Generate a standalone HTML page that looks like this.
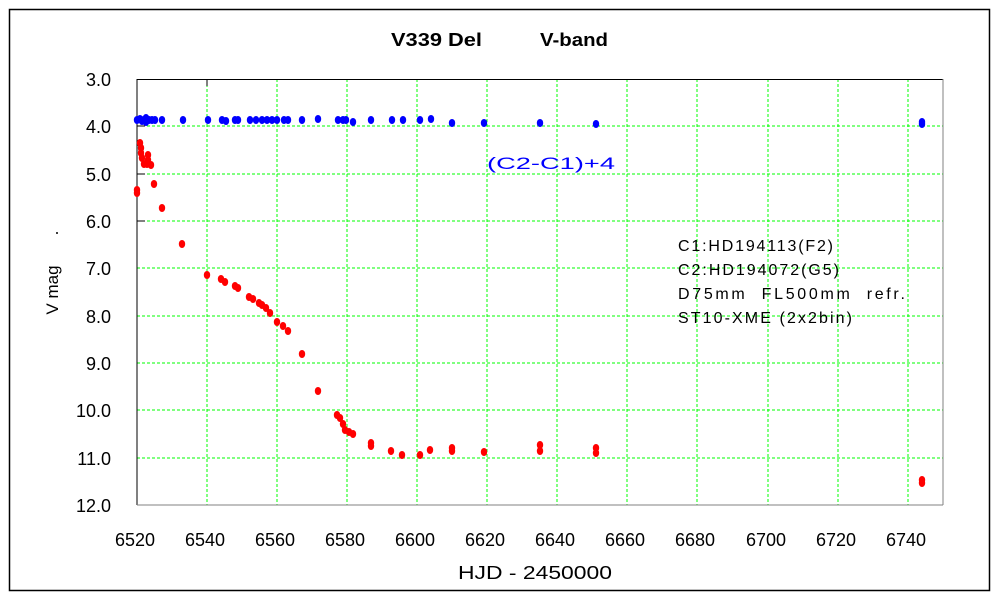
<!DOCTYPE html>
<html><head><style>body{margin:0;background:#fff}</style></head><body>
<svg width="1000" height="600" xmlns="http://www.w3.org/2000/svg" font-family="Liberation Sans, sans-serif">
<rect x="0" y="0" width="1000" height="600" fill="#fff"/>
<rect x="9.5" y="9.5" width="980" height="581" fill="none" stroke="#000" stroke-width="1.5"/>
<text x="391" y="46" font-size="18" font-weight="bold" textLength="91" lengthAdjust="spacingAndGlyphs">V339 Del</text>
<text x="540" y="46" font-size="18" font-weight="bold" textLength="68" lengthAdjust="spacingAndGlyphs">V-band</text>
<g stroke="#00ff00" stroke-dasharray="3,2" stroke-width="1">
<line x1="207" y1="79" x2="207" y2="505"/><line x1="277" y1="79" x2="277" y2="505"/><line x1="347" y1="79" x2="347" y2="505"/><line x1="417" y1="79" x2="417" y2="505"/><line x1="487" y1="79" x2="487" y2="505"/><line x1="557" y1="79" x2="557" y2="505"/><line x1="627" y1="79" x2="627" y2="505"/><line x1="697" y1="79" x2="697" y2="505"/><line x1="768" y1="79" x2="768" y2="505"/><line x1="838" y1="79" x2="838" y2="505"/><line x1="908" y1="79" x2="908" y2="505"/>
<line x1="137" y1="126" x2="943" y2="126"/><line x1="137" y1="174" x2="943" y2="174"/><line x1="137" y1="221" x2="943" y2="221"/><line x1="137" y1="268" x2="943" y2="268"/><line x1="137" y1="316" x2="943" y2="316"/><line x1="137" y1="363" x2="943" y2="363"/><line x1="137" y1="410" x2="943" y2="410"/><line x1="137" y1="458" x2="943" y2="458"/>
</g>
<g stroke="#000">
<line x1="137" y1="79" x2="137" y2="505"/><line x1="137" y1="79.5" x2="943" y2="79.5"/>
<line x1="207" y1="79" x2="207" y2="86"/>
<line x1="137" y1="126" x2="145" y2="126"/><line x1="137" y1="174" x2="145" y2="174"/><line x1="137" y1="221" x2="145" y2="221"/>
</g>
<g stroke="#808080"><line x1="943" y1="79" x2="943" y2="505"/><line x1="137" y1="505" x2="943" y2="505"/></g>
<g font-size="18" text-anchor="end">
<text x="111" y="86">3.0</text><text x="111" y="133">4.0</text><text x="111" y="181">5.0</text><text x="111" y="228">6.0</text><text x="111" y="275">7.0</text><text x="111" y="323">8.0</text><text x="111" y="370">9.0</text><text x="111" y="417">10.0</text><text x="111" y="465">11.0</text><text x="111" y="512">12.0</text>
</g>
<g font-size="18" text-anchor="middle">
<text x="135" y="546">6520</text><text x="205" y="546">6540</text><text x="275" y="546">6560</text><text x="345" y="546">6580</text><text x="415" y="546">6600</text><text x="485" y="546">6620</text><text x="555" y="546">6640</text><text x="625" y="546">6660</text><text x="695" y="546">6680</text><text x="766" y="546">6700</text><text x="836" y="546">6720</text><text x="906" y="546">6740</text>
</g>
<text x="458" y="579" font-size="18" textLength="154" lengthAdjust="spacingAndGlyphs">HJD - 2450000</text>
<text transform="translate(58,290) rotate(-90)" font-size="17" text-anchor="middle">V mag</text>
<circle cx="57" cy="233" r="1" fill="#000"/>
<text x="487" y="169" font-size="17" fill="#0000ff" textLength="128" lengthAdjust="spacingAndGlyphs">(C2-C1)+4</text>
<g font-size="16" lengthAdjust="spacingAndGlyphs"><text x="678" y="251" textLength="155">C1:HD194113(F2)</text><text x="678" y="275" textLength="161">C2:HD194072(G5)</text><text x="678" y="299" textLength="227" xml:space="preserve">D75mm  FL500mm  refr.</text><text x="678" y="323" textLength="174">ST10-XME (2x2bin)</text></g>
<g fill="#0000ff">
<ellipse cx="137" cy="120" rx="3.2" ry="4"/><ellipse cx="140" cy="119" rx="3.2" ry="4"/><ellipse cx="142" cy="121" rx="3.2" ry="4"/><ellipse cx="144" cy="120" rx="3.2" ry="4"/><ellipse cx="146" cy="118" rx="3.2" ry="4"/><ellipse cx="146" cy="122" rx="3.2" ry="4"/><ellipse cx="149" cy="120" rx="3.2" ry="4"/><ellipse cx="152" cy="120" rx="3.2" ry="4"/><ellipse cx="155" cy="120" rx="3.2" ry="4"/><ellipse cx="162" cy="120" rx="3.2" ry="4"/><ellipse cx="183" cy="120" rx="3.2" ry="4"/><ellipse cx="208" cy="120" rx="3.2" ry="4"/><ellipse cx="222" cy="120" rx="3.2" ry="4"/><ellipse cx="226" cy="121" rx="3.2" ry="4"/><ellipse cx="235" cy="120" rx="3.2" ry="4"/><ellipse cx="238" cy="120" rx="3.2" ry="4"/><ellipse cx="250" cy="120" rx="3.2" ry="4"/><ellipse cx="256" cy="120" rx="3.2" ry="4"/><ellipse cx="262" cy="120" rx="3.2" ry="4"/><ellipse cx="267" cy="120" rx="3.2" ry="4"/><ellipse cx="272" cy="120" rx="3.2" ry="4"/><ellipse cx="277" cy="120" rx="3.2" ry="4"/><ellipse cx="284" cy="120" rx="3.2" ry="4"/><ellipse cx="288" cy="120" rx="3.2" ry="4"/><ellipse cx="302" cy="120" rx="3.2" ry="4"/><ellipse cx="318" cy="119" rx="3.2" ry="4"/><ellipse cx="338" cy="120" rx="3.2" ry="4"/><ellipse cx="343" cy="120" rx="3.2" ry="4"/><ellipse cx="346" cy="120" rx="3.2" ry="4"/><ellipse cx="353" cy="122" rx="3.2" ry="4"/><ellipse cx="371" cy="120" rx="3.2" ry="4"/><ellipse cx="392" cy="120" rx="3.2" ry="4"/><ellipse cx="403" cy="120" rx="3.2" ry="4"/><ellipse cx="420" cy="120" rx="3.2" ry="4"/><ellipse cx="431" cy="119" rx="3.2" ry="4"/><ellipse cx="452" cy="123" rx="3.2" ry="4"/><ellipse cx="484" cy="123" rx="3.2" ry="4"/><ellipse cx="540" cy="123" rx="3.2" ry="4"/><ellipse cx="596" cy="124" rx="3.2" ry="4"/><ellipse cx="922" cy="122" rx="3.2" ry="4"/><ellipse cx="922" cy="124" rx="3.2" ry="4"/>
</g>
<g fill="#ff0000">
<ellipse cx="137" cy="190" rx="3.2" ry="4"/><ellipse cx="137" cy="193" rx="3.2" ry="4"/><ellipse cx="140" cy="143" rx="3.2" ry="4"/><ellipse cx="141" cy="148" rx="3.2" ry="4"/><ellipse cx="141" cy="153" rx="3.2" ry="4"/><ellipse cx="142" cy="158" rx="3.2" ry="4"/><ellipse cx="144" cy="164" rx="3.2" ry="4"/><ellipse cx="147" cy="164" rx="3.2" ry="4"/><ellipse cx="148" cy="155" rx="3.2" ry="4"/><ellipse cx="148" cy="160" rx="3.2" ry="4"/><ellipse cx="151" cy="165" rx="3.2" ry="4"/><ellipse cx="154" cy="184" rx="3.2" ry="4"/><ellipse cx="162" cy="208" rx="3.2" ry="4"/><ellipse cx="182" cy="244" rx="3.2" ry="4"/><ellipse cx="207" cy="275" rx="3.2" ry="4"/><ellipse cx="221" cy="279" rx="3.2" ry="4"/><ellipse cx="225" cy="282" rx="3.2" ry="4"/><ellipse cx="235" cy="286" rx="3.2" ry="4"/><ellipse cx="238" cy="288" rx="3.2" ry="4"/><ellipse cx="249" cy="297" rx="3.2" ry="4"/><ellipse cx="253" cy="299" rx="3.2" ry="4"/><ellipse cx="259" cy="303" rx="3.2" ry="4"/><ellipse cx="262" cy="305" rx="3.2" ry="4"/><ellipse cx="266" cy="308" rx="3.2" ry="4"/><ellipse cx="270" cy="313" rx="3.2" ry="4"/><ellipse cx="277" cy="322" rx="3.2" ry="4"/><ellipse cx="283" cy="326" rx="3.2" ry="4"/><ellipse cx="288" cy="331" rx="3.2" ry="4"/><ellipse cx="302" cy="354" rx="3.2" ry="4"/><ellipse cx="318" cy="391" rx="3.2" ry="4"/><ellipse cx="337" cy="415" rx="3.2" ry="4"/><ellipse cx="340" cy="418" rx="3.2" ry="4"/><ellipse cx="343" cy="424" rx="3.2" ry="4"/><ellipse cx="345" cy="430" rx="3.2" ry="4"/><ellipse cx="349" cy="432" rx="3.2" ry="4"/><ellipse cx="353" cy="434" rx="3.2" ry="4"/><ellipse cx="371" cy="443" rx="3.2" ry="4"/><ellipse cx="371" cy="446" rx="3.2" ry="4"/><ellipse cx="391" cy="451" rx="3.2" ry="4"/><ellipse cx="402" cy="455" rx="3.2" ry="4"/><ellipse cx="420" cy="455" rx="3.2" ry="4"/><ellipse cx="430" cy="450" rx="3.2" ry="4"/><ellipse cx="452" cy="448" rx="3.2" ry="4"/><ellipse cx="452" cy="451" rx="3.2" ry="4"/><ellipse cx="484" cy="452" rx="3.2" ry="4"/><ellipse cx="540" cy="445" rx="3.2" ry="4"/><ellipse cx="540" cy="451" rx="3.2" ry="4"/><ellipse cx="596" cy="448" rx="3.2" ry="4"/><ellipse cx="596" cy="453" rx="3.2" ry="4"/><ellipse cx="922" cy="480" rx="3.2" ry="4"/><ellipse cx="922" cy="483" rx="3.2" ry="4"/>
</g>
</svg>
</body></html>
